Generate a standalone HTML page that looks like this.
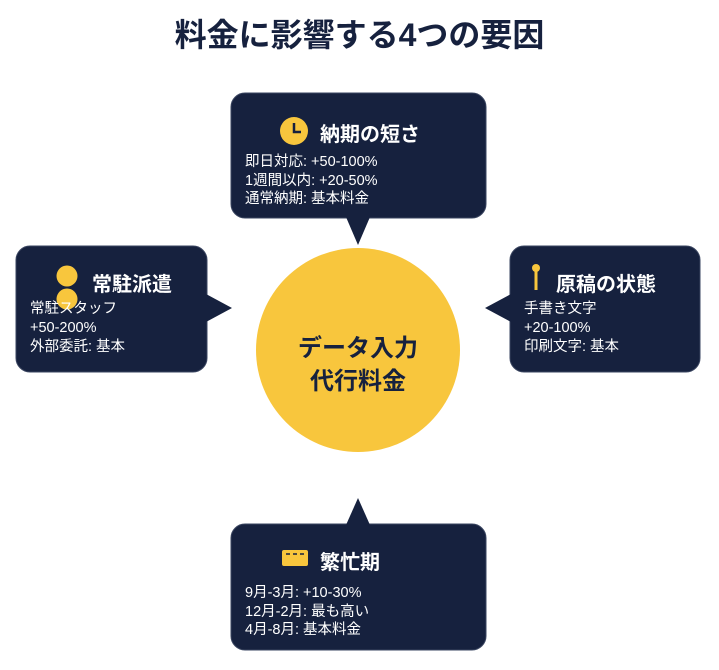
<!DOCTYPE html>
<html><head><meta charset="utf-8"><style>
html,body{margin:0;padding:0;background:#fff;}
body{width:719px;height:670px;position:relative;overflow:hidden;font-family:"Liberation Sans","Noto Sans CJK JP",sans-serif;}
.t{position:absolute;white-space:nowrap;}
</style></head><body>
<svg width="719" height="670" style="position:absolute;left:0;top:0" xmlns="http://www.w3.org/2000/svg">
<g fill="#16213E" stroke="#3a4560" stroke-width="1">
<rect x="231" y="93" width="255" height="125" rx="14"/>
<rect x="16" y="246" width="191" height="126" rx="14"/>
<rect x="510" y="246" width="190" height="126" rx="14"/>
<rect x="231" y="524" width="255" height="126" rx="14"/>
</g>
<g fill="#16213E">
<polygon points="346,217 370,217 358,245"/>
<polygon points="206,294 206,322 232,308"/>
<polygon points="511,294 511,322 485,308"/>
<polygon points="346,525 370,525 358,498"/>
</g>
<circle cx="358" cy="350" r="102" fill="#F8C63D"/>
<circle cx="294" cy="131" r="14" fill="#F8C63D"/>
<path d="M294 123 V132 H301" stroke="#16213E" stroke-width="2.5" fill="none"/>
<circle cx="67" cy="276" r="10.5" fill="#F8C63D"/>
<circle cx="67" cy="299" r="10.5" fill="#F8C63D"/>
<line x1="536" y1="270" x2="536" y2="290" stroke="#F8C63D" stroke-width="3"/>
<circle cx="536" cy="268" r="4" fill="#F8C63D"/>
<rect x="282" y="550" width="26" height="16" rx="2" fill="#F8C63D"/>
<g stroke="#16213E" stroke-width="1.5"><line x1="286" y1="554" x2="290" y2="554"/><line x1="293" y1="554" x2="297" y2="554"/><line x1="300" y1="554" x2="304" y2="554"/></g>
</svg>
<div class="t" style="left:0;width:719px;text-align:center;top:10px;font-size:32px;font-weight:bold;color:#16213E;">料金に影響する4つの要因</div>
<div class="t" style="left:256px;width:204px;text-align:center;top:332px;font-size:24px;font-weight:bold;color:#16213E;line-height:33px;">データ入力<br>代行料金</div>

<div class="t" style="left:320px;top:118px;font-size:20px;font-weight:bold;color:#fff;">納期の短さ</div>
<div class="t" style="left:245px;top:153px;font-size:14.5px;color:#fff;line-height:18.5px;">即日対応: +50-100%<br>1週間以内: +20-50%<br>通常納期: 基本料金</div>

<div class="t" style="left:92px;top:268px;font-size:20px;font-weight:bold;color:#fff;">常駐派遣</div>
<div class="t" style="left:30px;top:300px;font-size:14.5px;color:#fff;line-height:19px;">常駐スタッフ<br>+50-200%<br>外部委託: 基本</div>

<div class="t" style="left:556px;top:268px;font-size:20px;font-weight:bold;color:#fff;">原稿の状態</div>
<div class="t" style="left:524px;top:300px;font-size:14.5px;color:#fff;line-height:19px;">手書き文字<br>+20-100%<br>印刷文字: 基本</div>

<div class="t" style="left:320px;top:546px;font-size:20px;font-weight:bold;color:#fff;">繁忙期</div>
<div class="t" style="left:245px;top:584px;font-size:14.5px;color:#fff;line-height:18.5px;">9月-3月: +10-30%<br>12月-2月: 最も高い<br>4月-8月: 基本料金</div>
</body></html>
